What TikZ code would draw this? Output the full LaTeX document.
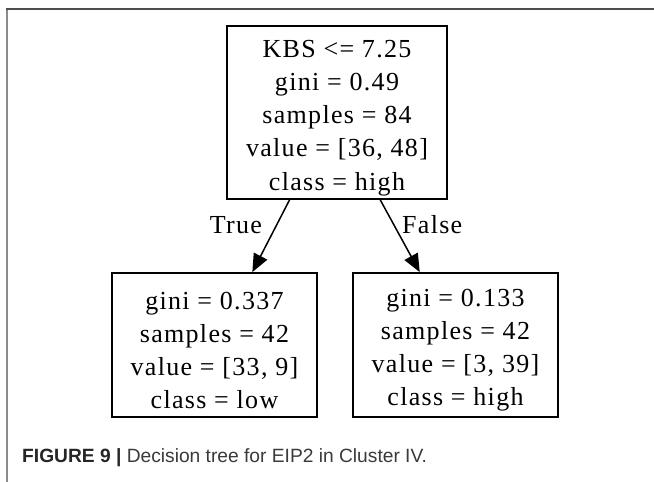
\documentclass[tikz,border=0pt]{standalone}
\usepackage{fontspec}
\setmainfont{Liberation Serif}
\newfontfamily\gvserif[LetterSpace=5]{Liberation Serif}
\newfontfamily\capsans{Liberation Sans}
\usetikzlibrary{arrows.meta,calc}
\definecolor{frametop}{HTML}{4D4D4D}
\definecolor{frameleft}{HTML}{8C8C8C}
\definecolor{captext}{HTML}{3A3A3A}
\newcommand{\topstrut}{\rule{0pt}{28pt}}
\tikzset{
  treebox/.style={draw=black, line width=1.8pt, inner sep=0pt, align=center,
    font=\gvserif\fontsize{26}{33.2}\selectfont},
  edgelabel/.style={inner sep=0pt, font=\gvserif\fontsize{26}{33.2}\selectfont},
  treeedge/.style={line width=1.5pt, -{Triangle[length=18pt,width=15pt]}},
  framerule/.style={line width=2pt},
}
\begin{document}
\begin{tikzpicture}[x=1pt,y=-1pt]
  \useasboundingbox (0,0) rectangle (654,482);
  \fill[white] (0,0) rectangle (654,482);
  % figure frame: visible top and left rules
  \draw[framerule, frametop] (6,8.5) -- (654,8.5);
  \draw[framerule, frameleft] (7,9.5) -- (7,482);

  % decision tree
  \node[treebox, minimum width=220pt, minimum height=173pt] (root) at (337,112.5)
    {\topstrut KBS <= 7.25\\gini = 0.49\\samples = 84\\value = [36, 48]\\class = high};
  \node[treebox, minimum width=205pt, minimum height=144pt] (lc) at (214.5,345)
    {\topstrut gini = 0.337\\samples = 42\\value = [33, 9]\\class = low};
  \node[treebox, minimum width=205pt, minimum height=144pt] (rc) at (455.5,345)
    {\topstrut gini = 0.133\\samples = 42\\value = [3, 39]\\class = high};

  \draw[treeedge] ($(root.south west)!0.286!(root.south east)$)
    -- ($(lc.north west)!0.683!(lc.north east)$);
  \draw[treeedge] ($(root.south west)!0.695!(root.south east)$)
    -- ($(rc.north west)!0.327!(rc.north east)$);

  \node[edgelabel, anchor=base] (tlab) at (236,233) {True};
  \node[edgelabel, anchor=base west] (flab) at (402,233) {False};

  % caption
  \node[anchor=base west, inner sep=0pt, text=captext,
        font=\capsans\fontsize{19.2}{22}\selectfont] (cap) at (22,462)
    {{\bfseries\color{black!85}FIGURE 9 |} Decision tree for EIP2 in Cluster IV.};
\end{tikzpicture}
\end{document}
